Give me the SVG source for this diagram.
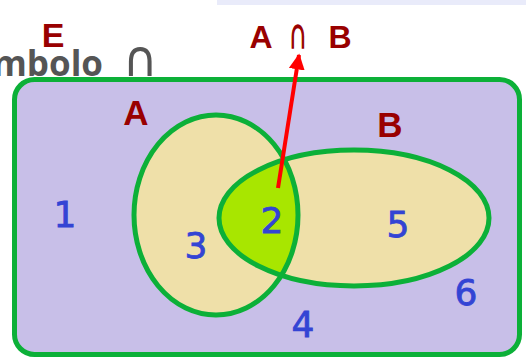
<svg xmlns="http://www.w3.org/2000/svg" width="526" height="363" viewBox="0 0 526 363">
<style>
.lbl{font-family:"Liberation Sans",Arial,sans-serif;font-weight:bold;fill:#990000;text-anchor:middle}
.num{font-family:"DejaVu Sans",Verdana,sans-serif;font-size:36px;fill:#3344d4;stroke:#3344d4;stroke-width:0.8;text-anchor:middle}
.ol{fill:none;stroke:#0cb038;stroke-width:5}
</style>
<defs>
<clipPath id="clipA"><ellipse cx="216" cy="215" rx="82" ry="100"/></clipPath>
<marker id="ah" viewBox="0 0 10 10" refX="9" refY="5" markerWidth="4" markerHeight="4" orient="auto" markerUnits="strokeWidth">
<path d="M0,0 L10,5 L0,10 z" fill="#ff0000"/>
</marker>
</defs>
<rect x="217" y="0" width="309" height="5" fill="#e9ebfa"/>
<text x="103" y="76" text-anchor="end" font-family="'Open Sans','Noto Sans',sans-serif" font-weight="bold" font-size="35" fill="#555555">mbolo</text>
<text transform="translate(140,76) scale(1.2,1.25)" text-anchor="middle" font-family="'DejaVu Sans',sans-serif" font-size="40" fill="#555555">∩</text>
<g id="E">
<rect x="14.5" y="79.5" width="505" height="275" rx="20" fill="#c8bfe8" stroke="#0cb038" stroke-width="5"/>
<text class="lbl" x="53" y="47" font-size="34">E</text>
</g>
<g id="A">
<ellipse cx="216" cy="215" rx="82" ry="100" fill="#efe0a9"/>
</g>
<g id="B">
<ellipse cx="354" cy="218" rx="135" ry="68" fill="#efe0a9"/>
</g>
<g id="AnB">
<ellipse cx="354" cy="218" rx="135" ry="68" fill="#a8e600" clip-path="url(#clipA)"/>
</g>
<ellipse class="ol" cx="216" cy="215" rx="82" ry="100"/>
<ellipse class="ol" cx="354" cy="218" rx="135" ry="68"/>
<text class="lbl" x="136" y="125" font-size="35">A</text>
<text class="lbl" x="390" y="137" font-size="35">B</text>
<text class="lbl" x="261" y="48" font-size="32">A</text>
<text class="lbl" transform="translate(298,48) scale(0.85,1.5)" font-size="30" font-family="'DejaVu Sans',sans-serif" stroke="#990000" stroke-width="1.2">∩</text>
<text class="lbl" x="340" y="48" font-size="32">B</text>
<text class="num" x="65" y="227">1</text>
<text class="num" x="272" y="233">2</text>
<text class="num" x="196" y="258">3</text>
<text class="num" x="398" y="237">5</text>
<text class="num" x="466" y="305">6</text>
<text class="num" x="303" y="337">4</text>
<g id="connectors">
<line x1="278" y1="188" x2="299" y2="55" stroke="#ff0000" stroke-width="4" marker-end="url(#ah)"/>
</g>
</svg>
